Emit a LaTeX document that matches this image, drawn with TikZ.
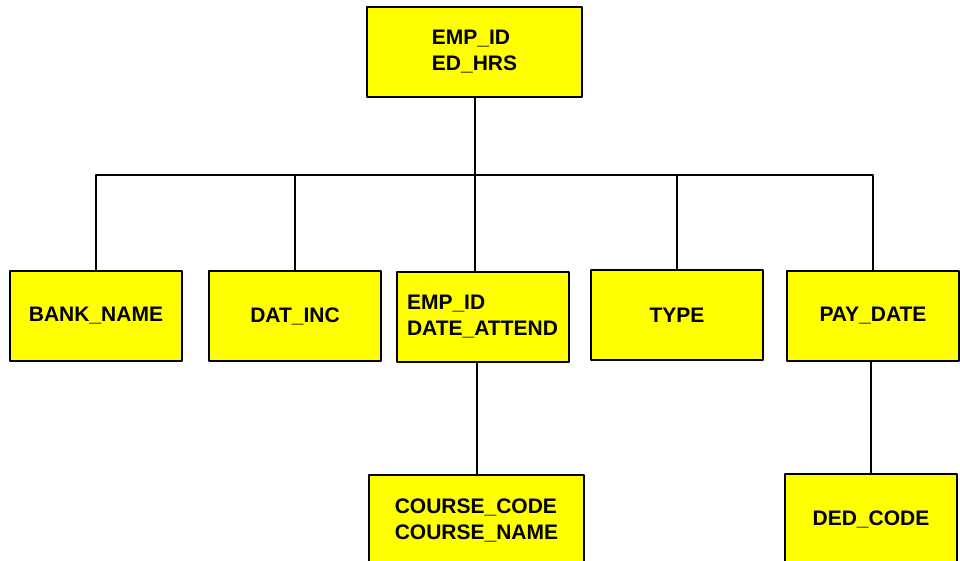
\documentclass[tikz,border=0pt]{standalone}
\usepackage{fontspec}
\setmainfont{Liberation Sans}
\definecolor{boxfill}{RGB}{255,255,0}
\begin{document}
\begin{tikzpicture}[x=0.5pt,y=-0.5pt,line width=1pt,line join=round,
  entity/.style={draw,fill=boxfill,inner sep=0pt,minimum width=86pt,minimum height=45pt,
    font=\fontsize{10.5}{13}\selectfont\bfseries,align=left},
  wide/.style={entity,minimum width=107.5pt}]
\useasboundingbox (0,0) rectangle (960,561);
\clip (0,0) rectangle (960,561);
% root and first level
\node[wide]   (emp)     at (474.5,52) {EMP\_ID\\ED\_HRS};
\node[entity] (bank)    at (96,316)   {BANK\_NAME};
\node[entity] (datinc)  at (295,316)  {DAT\_INC};
\node[entity] (attend)  at (482.5,317){EMP\_ID\\DATE\_ATTEND};
\node[entity] (type)    at (677,315)  {TYPE};
\node[entity] (paydate) at (873,316)  {PAY\_DATE};
% second level
\node[wide]   (course)  at (476.5,520){COURSE\_CODE\\COURSE\_NAME};
\node[entity] (ded)     at (871,519)  {DED\_CODE};
% connectors
\coordinate (bar) at (0,175);
\draw (bank.north) -- (bank.north |- bar) -- (paydate.north |- bar) -- (paydate.north);
\draw (emp.south) -- (emp.south |- attend.north);
\foreach \n in {datinc,type} \draw (\n.north) -- (\n.north |- bar);
\draw (course.north) -- (course.north |- attend.south);
\draw (ded.north) -- (ded.north |- paydate.south);
\end{tikzpicture}
\end{document}
